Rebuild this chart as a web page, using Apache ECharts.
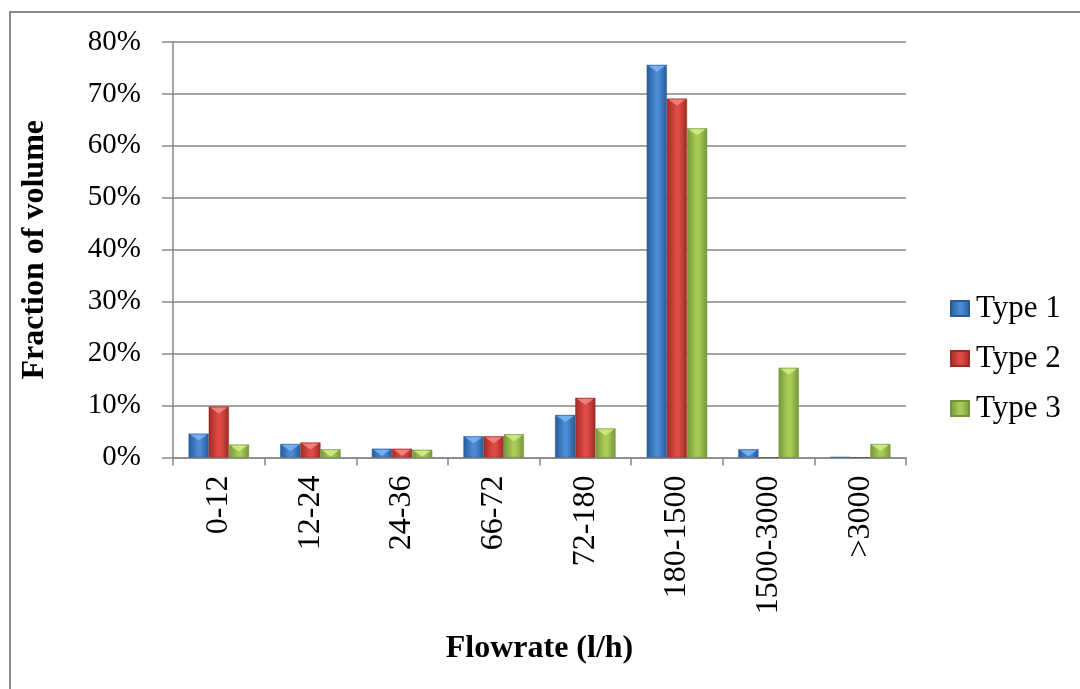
<!DOCTYPE html>
<html>
<head>
<meta charset="utf-8">
<script src="https://cdn.jsdelivr.net/npm/echarts@6/dist/echarts.min.js"></script>
<style>
html,body{margin:0;padding:0;background:#fff;}
#chart{width:1080px;height:689px;}
</style>
</head>
<body>
<div id="chart"></div>
<script>
var categories = ['0-12','12-24','24-36','66-72','72-180','180-1500','1500-3000','>3000'];
var seriesNames = ['Type 1','Type 2','Type 3'];
var type1 = [4.6, 2.6, 1.7, 4.1, 8.2, 75.6, 1.6, 0.1];
var type2 = [9.8, 2.9, 1.7, 4.1, 11.5, 69.1, 0, 0];
var type3 = [2.5, 1.6, 1.5, 4.5, 5.6, 63.4, 17.3, 2.6];
var yTicks = {min: 0, max: 80, interval: 10};

var GAP = 0.34;
function grad(edge, mid) {
  return new echarts.graphic.LinearGradient(0, 0, 1, 0, [
    {offset: 0, color: edge},
    {offset: 0.45, color: mid},
    {offset: 0.6, color: mid},
    {offset: 1, color: edge}
  ]);
}
var palettes = [
  {edge: '#285a98', mid: '#4a8ad6', light: '#7fb6f2'},
  {edge: '#9e2a26', mid: '#df4a45', light: '#f08a86'},
  {edge: '#74963a', mid: '#a9cb56', light: '#d2ef88'}
];
var values = [type1, type2, type3];
var FONT = '"Liberation Serif", "Times New Roman", serif';

var series = seriesNames.map(function (n, i) {
  return {
    name: n,
    type: 'bar',
    data: values[i],
    barGap: '0%',
    barCategoryGap: (GAP * 100) + '%',
    itemStyle: {
      color: grad(palettes[i].edge, palettes[i].mid),
      borderColor: palettes[i].edge,
      borderWidth: 0.5
    }
  };
});

function bevel(si) {
  return function (params, api) {
    var ci = api.value(0), v = api.value(1);
    if (!v) return null;
    var top = api.coord([ci, v]);
    var base = api.coord([ci, 0]);
    var band = api.size([1, 0])[0];
    var bw = band * (1 - GAP) / 3;
    var x0 = top[0] - 1.5 * bw + si * bw;
    var h = Math.min(7, base[1] - top[1] - 1);
    if (h < 1) return null;
    return {
      type: 'polygon',
      shape: {points: [[x0 + 1.5, top[1] + 1], [x0 + bw - 1.5, top[1] + 1], [x0 + bw / 2, top[1] + h]]},
      style: {fill: palettes[si].light, opacity: 0.85}
    };
  };
}
seriesNames.forEach(function (n, i) {
  series.push({
    type: 'custom',
    name: n + ' top',
    renderItem: bevel(i),
    data: values[i].map(function (v, ci) { return [ci, v]; }),
    z: 5,
    silent: true
  });
});

var chart = echarts.init(document.getElementById('chart'));
chart.setOption({
  animation: false,
  backgroundColor: '#ffffff',
  textStyle: {fontFamily: FONT},
  graphic: [{
    type: 'rect',
    shape: {x: 10, y: 12, width: 1090, height: 700},
    style: {fill: 'none', stroke: '#8a8a8a', lineWidth: 2},
    z: 0
  }],
  grid: {left: 173, right: 174, top: 42, bottom: 231.5, containLabel: false},
  legend: {
    orient: 'vertical',
    left: 945,
    top: 288,
    icon: 'rect',
    itemWidth: 18,
    itemHeight: 15,
    itemGap: 19,
    textStyle: {fontFamily: FONT, fontSize: 31, color: '#000', padding: [0, 0, 0, 2]},
    data: seriesNames.map(function (n, i) {
      return {name: n, itemStyle: {color: grad(palettes[i].edge, palettes[i].mid)}};
    })
  },
  xAxis: {
    type: 'category',
    data: categories,
    name: 'Flowrate (l/h)',
    nameLocation: 'middle',
    nameGap: 175,
    nameTextStyle: {fontFamily: FONT, fontSize: 32, fontWeight: 'bold', color: '#000'},
    axisLine: {lineStyle: {color: '#868686', width: 1.5}},
    axisTick: {show: true, length: 8, lineStyle: {color: '#868686', width: 1.5}},
    axisLabel: {rotate: 90, margin: 18, fontFamily: FONT, fontSize: 32, color: '#000'}
  },
  yAxis: {
    type: 'value',
    min: yTicks.min,
    max: yTicks.max,
    interval: yTicks.interval,
    name: 'Fraction of volume',
    nameLocation: 'middle',
    nameGap: 122,
    nameTextStyle: {fontFamily: FONT, fontSize: 32, fontWeight: 'bold', color: '#000'},
    axisLine: {show: true, lineStyle: {color: '#868686', width: 1.5}},
    axisTick: {show: true, length: 11, lineStyle: {color: '#868686', width: 1.5}},
    axisLabel: {formatter: '{value}%', margin: 32, fontFamily: FONT, fontSize: 29, color: '#000'},
    splitLine: {show: true, lineStyle: {color: '#868686', width: 1.5}}
  },
  series: series
});
</script>
</body>
</html>
